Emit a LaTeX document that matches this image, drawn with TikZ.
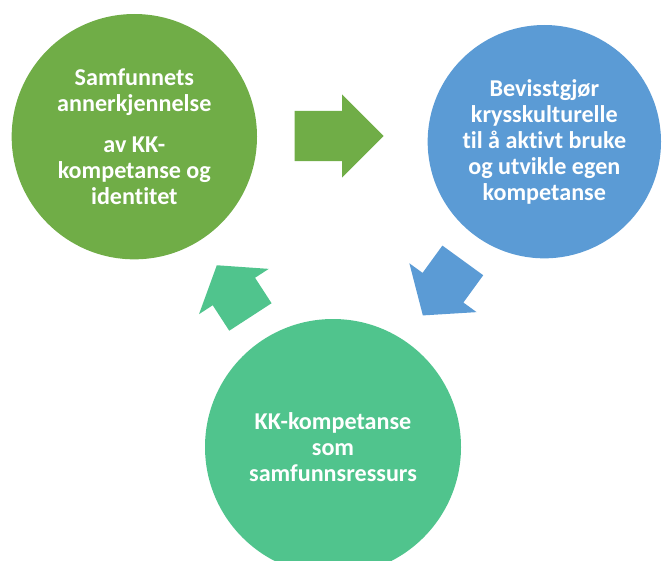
\documentclass[tikz,border=0pt]{standalone}
\usepackage{fontspec}
\setmainfont{Carlito}[Ligatures=NoCommon]
\usetikzlibrary{shapes.arrows}
\definecolor{leafgreen}{HTML}{70AD47}
\definecolor{skyblue}{HTML}{5B9BD5}
\definecolor{mintgreen}{HTML}{50C48D}
\newcommand{\stagefont}{\fontsize{20.6}{22.2}\selectfont}
\tikzset{
  % coloured disc holding one step of the cycle
  stage/.style={circle, inner sep=0pt, text=white, align=center, font=\bfseries\stagefont},
  % broad arrow leading on to the next stage, placed by its tip
  push/.style={single arrow, inner xsep=0pt, inner ysep=0.75cm, single arrow head extend=0.49cm, anchor=tip},
}

\begin{document}
\begin{tikzpicture}

  \useasboundingbox (0,0) rectangle (19.86,-16.83);
  \clip (0,0) rectangle (19.86,-16.83);

  \node [stage, fill=leafgreen, minimum size=7.36cm] at (4.03,-4.10) (recognition)
    {Samfunnets\\annerkjennelse\\[13pt]av KK-\\kompetanse og\\identitet};
  \node [stage, fill=skyblue, minimum size=7.0cm] at (16.33,-4.25) (awareness)
    {Bevisstgjør\\krysskulturelle\\til å aktivt bruke\\og utvikle egen\\kompetanse};
  \node [stage, fill=mintgreen, minimum size=7.68cm] at (9.99,-13.41) (resource)
    {KK-kompetanse\\som\\samfunnsressurs};

  % arrows between the stages
  \node [push, fill=leafgreen, minimum height=2.67cm] at (11.52,-4.08) (toAwareness) {};
  \node [push, fill=skyblue, minimum height=2.04cm,
    single arrow tip angle=101, rotate=234] at (12.68,-9.47) (toResource) {};
  \node [push, fill=mintgreen, minimum height=1.85cm,
    single arrow tip angle=106, rotate=123] at (6.50,-7.95) (toRecognition) {};

\end{tikzpicture}
\end{document}
